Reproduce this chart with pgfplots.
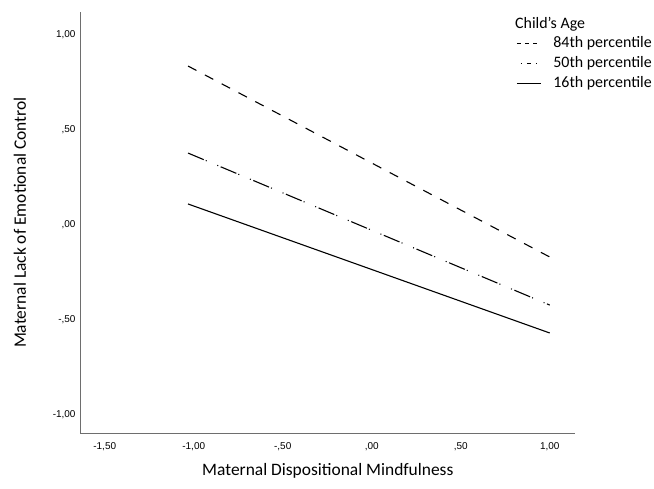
\documentclass[border=0pt]{standalone}
\usepackage{pgfplots}
\pgfplotsset{compat=1.18}
\usepackage{fontspec}
\setmainfont{Carlito}
\newfontfamily\arialf{Liberation Sans}
\definecolor{axisgray}{RGB}{110,110,110}
\begin{document}
\begin{tikzpicture}
\useasboundingbox (0,0) rectangle (654bp,489bp);
\begin{axis}[
  scale only axis, width=494.3bp, height=421.8bp,
  at={(80.7bp,55.5bp)}, anchor=south west,
  xmin=-1.635, xmax=1.142, ymin=-1.097, ymax=1.123,
  clip=false,
  axis lines=left, axis line style={-, draw=axisgray, line width=1.2bp},
  xtick={-1.5,-1,-0.5,0,0.5,1}, xticklabels={{-1,50},{-1,00},{-,50},{,00},{,50},{1,00}},
  ytick={-1,-0.5,0,0.5,1}, yticklabels={{-1,00},{-,50},{,00},{,50},{1,00}},
  major tick length=0pt,
  tick label style={font=\arialf\fontsize{10}{12}\selectfont, text=black},
  xticklabel style={anchor=center, yshift=-13bp},
  yticklabel style={anchor=east, inner sep=0pt, xshift=-5bp},
  xlabel={Maternal Dispositional Mindfulness},
  ylabel={Maternal Lack of Emotional Control},
  label style={font=\fontsize{17.5}{20}\selectfont},
  xlabel style={at={(axis description cs:0.5,-0.0889)}, anchor=center},
  ylabel style={at={(axis description cs:-0.1228,0.5)}, anchor=center},
  legend style={at={(axis description cs:0.8807,0.9417)}, anchor=north west, draw=none, fill=none, inner sep=0pt, row sep=5.8bp, font=\fontsize{16}{18}\selectfont, nodes={inner sep=0pt, text height=11bp, text depth=3bp}, /tikz/every odd column/.append style={column sep=12bp}},
  legend cell align=left,
]
\addplot[black, line width=1.1bp, dash pattern=on 9.5bp off 9.5bp,
  legend image code/.code={\draw[black,line width=1.1bp,dash pattern=on 4bp off 4.3bp] (0bp,0bp) -- (21bp,0bp);}]
  coordinates {(-1.032,0.837) (1.0,-0.168)};
\addlegendentry{84th percentile}
\addplot[black, line width=1.1bp, dash pattern=on 17bp off 2.2bp on 1bp off 11.5bp on 1bp off 2.7bp,
  legend image code/.code={\draw[black,line width=1.1bp,dash pattern=on 1bp off 5bp on 4bp off 5bp on 1bp off 10bp] (4bp,0bp) -- (23bp,0bp);}]
  coordinates {(-1.032,0.379) (1.0,-0.421)};
\addlegendentry{50th percentile}
\addplot[black, line width=1.1bp,
  legend image code/.code={\draw[black,line width=1.1bp] (0bp,0bp) -- (24bp,0bp);}]
  coordinates {(-1.032,0.111) (1.0,-0.568)};
\addlegendentry{16th percentile}
\node[anchor=base west, inner sep=0pt, font=\fontsize{16}{18}\selectfont] at (axis description cs:0.8786,0.9602) {Child’s Age};
\end{axis}
\end{tikzpicture}
\end{document}
